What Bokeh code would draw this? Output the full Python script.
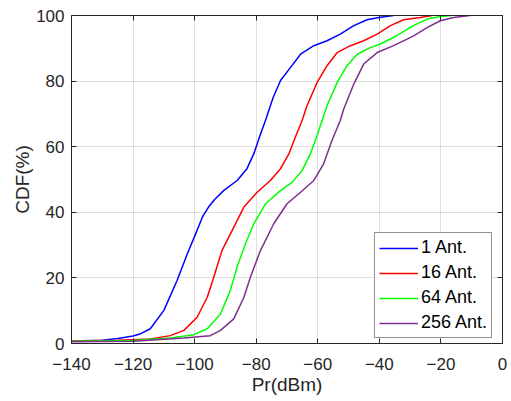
from bokeh.plotting import figure
from bokeh.models import LinearAxis, Legend, LegendItem, Range1d, FixedTicker
from bokeh.embed import file_html
from bokeh.resources import INLINE

# ---- data ----
x_ticks = [-140, -120, -100, -80, -60, -40, -20, 0]
y_ticks = [0, 20, 40, 60, 80, 100]

labels = ["1 Ant.", "16 Ant.", "64 Ant.", "256 Ant."]
colors = ["#0000FF", "#FF0000", "#00FF00", "#7E2F8E"]

ant1_x = [-140, -130, -125, -120, -117.5, -114.4, -110.0, -105.7, -102.4, -99.2, -97.5, -95.5,
          -93.5, -90.6, -86.2, -83.0, -80.8, -78.6, -77.0, -74.5, -72.1, -68.9, -65.6, -61.3,
          -57.0, -52.7, -48.3, -44.0, -40.2, -35.4]
ant1_y = [0.8, 1.0, 1.5, 2.3, 3.0, 4.5, 10.1, 19.2, 27.3, 34.5, 38.5, 41.6,
          43.9, 46.6, 49.7, 53.3, 57.8, 63.9, 68.0, 75.0, 80.2, 84.1, 88.2, 90.8,
          92.3, 94.3, 96.9, 98.7, 99.4, 100.0]

ant16_x = [-140, -125, -114.4, -107.9, -103.5, -99.2, -95.9, -93.8, -91.1, -87.8, -84.0, -79.7,
           -75.4, -72.1, -69.4, -67.3, -65.1, -63.5, -60.2, -57.0, -53.7, -49.4, -45.1, -40.7,
           -36.4, -32.1, -26.7, -22.9]
ant16_y = [0.8, 1.0, 1.4, 2.4, 4.0, 8.0, 14.1, 20.2, 28.4, 34.5, 41.6, 46.1,
           49.7, 53.3, 57.8, 62.9, 68.0, 72.5, 79.6, 84.7, 88.7, 90.8, 92.3, 94.3,
           96.9, 98.7, 99.4, 100.0]

ant64_x = [-140, -120, -107.9, -100.3, -95.9, -91.6, -88.4, -86.2, -83.5, -80.8, -77.0, -72.1,
           -68.3, -65.1, -62.4, -60.2, -57.0, -53.7, -50.5, -47.2, -42.9, -39.7, -35.4, -31.0,
           -28.9, -24.5, -20.2, -16.4]
ant64_y = [0.7, 0.9, 1.7, 2.7, 4.5, 9.0, 16.2, 23.3, 30.4, 36.5, 42.6, 46.6,
           49.2, 52.7, 57.8, 63.5, 72.5, 79.6, 84.7, 88.2, 90.2, 91.3, 93.3, 95.8,
           96.9, 98.9, 99.7, 100.0]

ant256_x = [-140, -120, -103.5, -94.9, -91.6, -87.3, -84.0, -81.9, -78.6, -74.3, -70.0, -65.6,
            -61.3, -58.1, -55.4, -52.7, -51.6, -48.3, -45.1, -40.7, -35.4, -31.0, -28.9, -24.5,
            -20.2, -15.9, -10.5]
ant256_y = [0.5, 0.7, 1.7, 2.4, 4.0, 7.5, 14.1, 20.2, 28.4, 36.5, 42.6, 46.1,
            49.7, 54.8, 61.9, 68.0, 71.4, 79.1, 85.2, 88.7, 90.8, 92.8, 93.8, 96.3,
            98.4, 99.4, 100.0]

series_x = [ant1_x, ant16_x, ant64_x, ant256_x]
series_y = [ant1_y, ant16_y, ant64_y, ant256_y]

FONT = "Liberation Sans"
AX = "#262626"

p = figure(width=511, height=401, output_backend="svg", toolbar_location=None,
           x_range=Range1d(-140, 0), y_range=Range1d(0, 100),
           min_border_left=71, min_border_right=9, min_border_top=15, min_border_bottom=58)
p.outline_line_color = AX
p.outline_line_width = 1
p.background_fill_color = "white"
p.border_fill_color = "white"

renderers = []
for xs, ys, c in zip(series_x, series_y, colors):
    r = p.line(xs, ys, line_color=c, line_width=1.5)
    renderers.append(r)

# main axes
p.xaxis.axis_label = "Pr(dBm)"
p.yaxis.axis_label = "CDF(%)"
for ax in [p.xaxis[0], p.yaxis[0]]:
    ax.axis_line_color = AX
    ax.major_tick_line_color = AX
    ax.major_tick_in = 5
    ax.major_tick_out = 0
    ax.minor_tick_line_color = None
    ax.major_label_text_font = FONT
    ax.major_label_text_font_size = "17px"
    ax.major_label_text_color = AX
    ax.axis_label_text_font = FONT
    ax.axis_label_text_font_size = "19px"
    ax.axis_label_text_font_style = "normal"
    ax.axis_label_text_color = AX
p.xaxis.ticker = FixedTicker(ticks=x_ticks)
p.yaxis.ticker = FixedTicker(ticks=y_ticks)
p.xaxis.major_label_standoff = 14
p.xaxis.axis_label_standoff = 1
p.yaxis.major_label_standoff = 7
p.yaxis.axis_label_standoff = 0

# box axes (top/right) with ticks only, labels not drawn
top = LinearAxis(ticker=FixedTicker(ticks=x_ticks))
right = LinearAxis(ticker=FixedTicker(ticks=y_ticks))
for ax in [top, right]:
    ax.axis_line_color = AX
    ax.major_tick_line_color = AX
    ax.major_tick_in = 5
    ax.major_tick_out = 0
    ax.minor_tick_line_color = None
    ax.major_label_text_font_size = "1px"
    ax.major_label_text_color = None
    ax.major_label_standoff = 0
p.add_layout(top, "above")
p.add_layout(right, "right")

# grid
for g in [p.xgrid[0], p.ygrid[0]]:
    g.grid_line_color = AX
    g.grid_line_alpha = 0.15
    g.grid_line_width = 1
p.xgrid.ticker = FixedTicker(ticks=x_ticks)
p.ygrid.ticker = FixedTicker(ticks=y_ticks)

legend = Legend(items=[LegendItem(label=l, renderers=[r]) for l, r in zip(labels, renderers)],
                location=(303, 5), margin=0, padding=4, spacing=4,
                glyph_width=39, glyph_height=20, label_height=20, label_standoff=3,
                label_text_font=FONT, label_text_font_size="18px", label_text_color="black",
                border_line_color=AX, border_line_width=1, background_fill_color="white",
                background_fill_alpha=1.0)
p.add_layout(legend, "center")

open("out.html", "w").write(file_html(p, INLINE))
